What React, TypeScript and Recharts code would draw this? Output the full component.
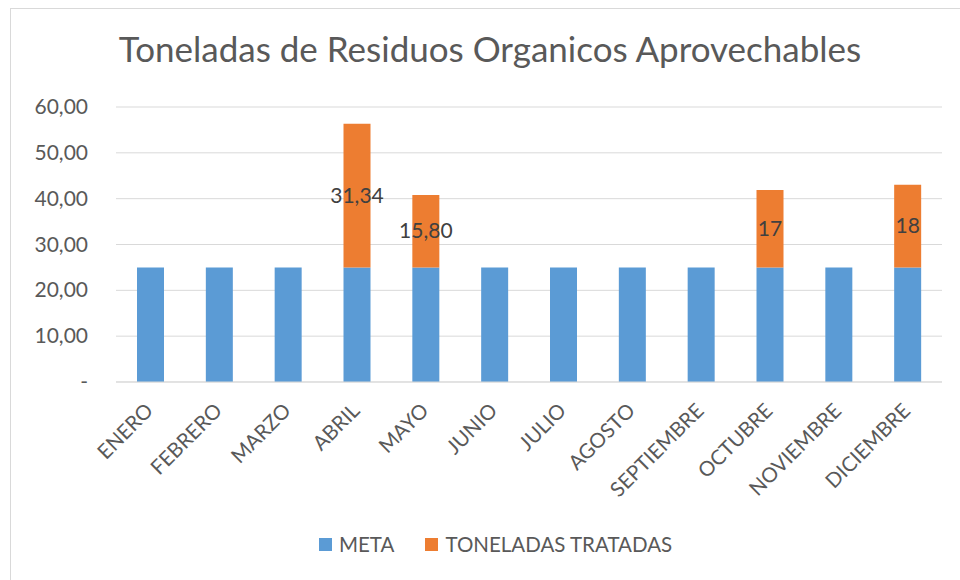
import { BarChart, Bar, XAxis, YAxis, CartesianGrid, LabelList } from "recharts";

const MONTHS = ["ENERO", "FEBRERO", "MARZO", "ABRIL", "MAYO", "JUNIO", "JULIO", "AGOSTO", "SEPTIEMBRE", "OCTUBRE", "NOVIEMBRE", "DICIEMBRE"];
const META = [25, 25, 25, 25, 25, 25, 25, 25, 25, 25, 25, 25];
const TRATADAS = [null, null, null, 31.34, 15.8, null, null, null, null, 16.9, null, 18.05];
const TRATADAS_LABELS = ["", "", "", "31,34", "15,80", "", "", "", "", "17", "", "18"];
const Y_TICKS = [0, 10, 20, 30, 40, 50, 60];

const FONT = "Lato, 'Open Sans', sans-serif";
const TEXT = "#595959";

const data = MONTHS.map((name, i) => ({
  name,
  meta: META[i],
  tratadas: TRATADAS[i],
  label: TRATADAS_LABELS[i],
}));

const fmt = (v: number) => (v === 0 ? "-" : v.toFixed(2).replace(".", ","));

const YTick = ({ x, y, payload }: any) => (
  <text x={x - 20} y={y} dy={7} textAnchor="end" fontSize={21} fill={TEXT} fontFamily={FONT}>
    {fmt(payload.value)}
  </text>
);

const XTick = ({ x, y, payload }: any) => {
  const ax = x + 4;
  const ay = y + 22;
  return (
    <text
      x={ax}
      y={ay}
      textAnchor="end"
      fontSize={20.5}
      fill={TEXT}
      fontFamily={FONT}
      transform={`rotate(-45, ${ax}, ${ay})`}
    >
      {payload.value}
    </text>
  );
};

const SegLabel = (props: any) => {
  const { x, y, width, height, value } = props;
  if (!value) return null;
  return (
    <text
      x={Number(x) + Number(width) / 2}
      y={Number(y) + Number(height) / 2}
      dy={7}
      textAnchor="middle"
      fontSize={21}
      fill="#404040"
      fontFamily={FONT}
    >
      {value}
    </text>
  );
};

const LegendItem = ({ color, text }: { color: string; text: string }) => (
  <div style={{ display: "flex", alignItems: "center", marginRight: 31 }}>
    <div style={{ width: 13, height: 13, background: color, marginRight: 7 }} />
    <span style={{ fontSize: 20.5, color: TEXT, fontFamily: FONT }}>{text}</span>
  </div>
);

export default function App() {
  return (
    <div style={{ position: "fixed", left: 0, top: 0, width: 960, height: 580, background: "#fff", overflow: "hidden" }}>
      <div
        style={{
          position: "absolute",
          left: 10,
          top: 8,
          width: 980,
          height: 600,
          border: "1px solid #d9d9d9",
        }}
      />
      <div
        style={{
          position: "absolute",
          left: 0,
          top: 27,
          width: 980,
          textAlign: "center",
          fontSize: 35,
          color: TEXT,
          fontFamily: FONT,
        }}
      >
        Toneladas de Residuos Organicos Aprovechables
      </div>
      <div style={{ position: "absolute", left: 0, top: 0 }}>
        <BarChart width={960} height={580} data={data} margin={{ top: 107, right: 18, bottom: 0, left: 0 }}>
          <CartesianGrid vertical={false} stroke="#d9d9d9" strokeWidth={1} />
          <XAxis
            dataKey="name"
            height={198}
            interval={0}
            tickLine={false}
            axisLine={{ stroke: "#d9d9d9" }}
            tick={<XTick />}
          />
          <YAxis
            width={116}
            domain={[0, 60]}
            ticks={Y_TICKS}
            axisLine={false}
            tickLine={false}
            tick={<YTick />}
          />
          <Bar dataKey="meta" stackId="a" fill="#5B9BD5" barSize={27} isAnimationActive={false} />
          <Bar dataKey="tratadas" stackId="a" fill="#ED7D31" barSize={27} isAnimationActive={false}>
            <LabelList dataKey="label" content={<SegLabel />} />
          </Bar>
        </BarChart>
      </div>
      <div style={{ position: "absolute", left: 319, top: 532, display: "flex" }}>
        <LegendItem color="#5B9BD5" text="META" />
        <LegendItem color="#ED7D31" text="TONELADAS TRATADAS" />
      </div>
    </div>
  );
}
